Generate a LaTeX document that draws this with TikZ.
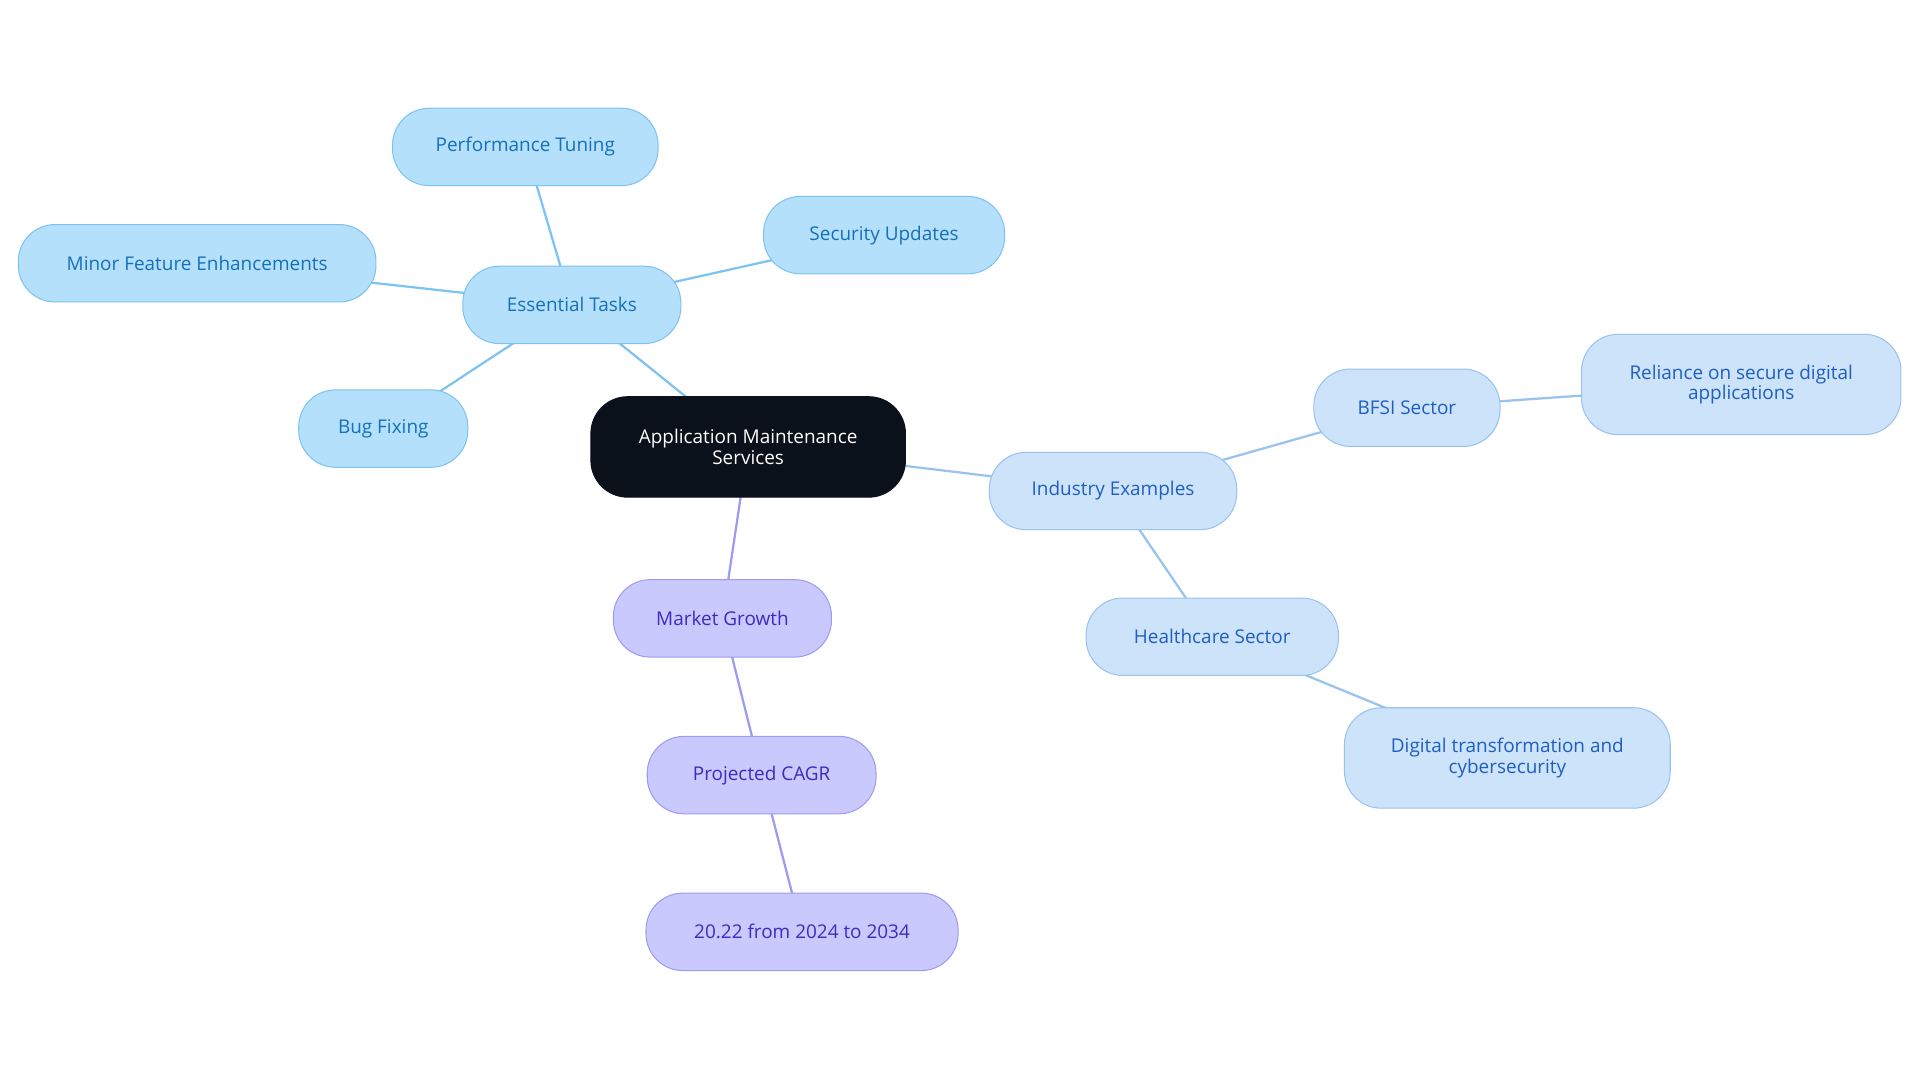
\documentclass[tikz,border=0pt]{standalone}
\usepackage{fontspec}
\setmainfont{Open Sans}
\usetikzlibrary{backgrounds}
\definecolor{taskfill}{HTML}{B5E0FC}
\definecolor{taskline}{HTML}{7DC3F2}
\definecolor{tasktext}{HTML}{1570B8}
\definecolor{indfill}{HTML}{CDE3FA}
\definecolor{indline}{HTML}{98C3EF}
\definecolor{indtext}{HTML}{1E5EC2}
\definecolor{mktfill}{HTML}{C9C9FD}
\definecolor{mktline}{HTML}{9D9BF0}
\definecolor{mkttext}{HTML}{3A2DBE}
\definecolor{rootfill}{HTML}{0B111A}
\tikzset{
  box/.style={rounded corners=0.75cm, draw, line width=0.6pt, align=center,
    font=\fontsize{11}{12}\selectfont, minimum height=1.58cm, inner sep=2pt},
  task/.style={box, fill=taskfill, draw=taskline, text=tasktext},
  ind/.style={box, fill=indfill, draw=indline, text=indtext},
  mkt/.style={box, fill=mktfill, draw=mktline, text=mkttext},
  root/.style={box, fill=rootfill, draw=rootfill, text=white, minimum height=2.05cm},
  link/.style={line width=1.3pt}
}
\begin{document}
\begin{tikzpicture}[x=0.025cm, y=-0.025cm]
\useasboundingbox (0,0) rectangle (1568,885);
\node[root, minimum width=6.42cm] (app) at (611,365) {Application Maintenance\\Services};
%----tasks----%
\node[task, minimum width=4.45cm] (tasks) at (467,249) {Essential Tasks};
\node[task, minimum width=5.42cm] (perf) at (429,120) {Performance Tuning};
\node[task, minimum width=4.92cm] (sec) at (722,192) {Security Updates};
\node[task, minimum width=7.3cm] (minor) at (161,215) {Minor Feature Enhancements};
\node[task, minimum width=3.45cm] (bug) at (313,350) {Bug Fixing};
%----industry----%
\node[ind, minimum width=5.05cm] (indus) at (909,401) {Industry Examples};
\node[ind, minimum width=3.8cm] (bfsi) at (1149,333) {BFSI Sector};
\node[ind, minimum width=6.52cm, minimum height=2.05cm] (rel) at (1422,314) {Reliance on secure digital\\applications};
\node[ind, minimum width=5.15cm] (health) at (990,520) {Healthcare Sector};
\node[ind, minimum width=6.65cm, minimum height=2.05cm] (digi) at (1231,619) {Digital transformation and\\cybersecurity};
%----market----%
\node[mkt, minimum width=4.45cm] (market) at (590,505) {Market Growth};
\node[mkt, minimum width=4.67cm] (cagr) at (622,633) {Projected CAGR};
\node[mkt, minimum width=6.37cm] (years) at (655,761) {20.22 from 2024 to 2034};
\begin{scope}[on background layer]
  \draw[link, taskline] (app.center) -- (tasks.center);
  \draw[link, taskline] (tasks.center) -- (perf.center);
  \draw[link, taskline] (tasks.center) -- (sec.center);
  \draw[link, taskline] (tasks.center) -- (minor.center);
  \draw[link, taskline] (tasks.center) -- (bug.center);
  \draw[link, indline] (app.center) -- (indus.center);
  \draw[link, indline] (indus.center) -- (bfsi.center);
  \draw[link, indline] (bfsi.center) -- (rel.center);
  \draw[link, indline] (indus.center) -- (health.center);
  \draw[link, indline] (health.center) -- (digi.center);
  \draw[link, mktline] (app.center) -- (market.center);
  \draw[link, mktline] (market.center) -- (cagr.center);
  \draw[link, mktline] (cagr.center) -- (years.center);
\end{scope}
\end{tikzpicture}
\end{document}
